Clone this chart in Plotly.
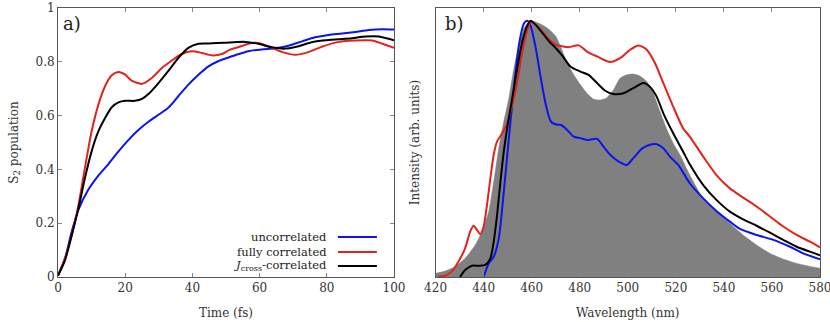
import plotly.graph_objects as go

# ---------------- Panel a: S2 population vs time ----------------
t_unc = [0, 2.1, 4.1, 6.1, 9, 12, 15, 18, 21, 24, 27, 29.9, 32.9, 35.8, 38.8, 41.8, 44.8, 47.8,
         50.5, 53.6, 56.6, 60.6, 64.6, 68.6, 72.6, 76.5, 80.5, 84.5, 88.5, 92.5, 96.5, 100]
p_unc = [0.005, 0.07, 0.17, 0.25, 0.324, 0.377, 0.42, 0.467, 0.51, 0.547, 0.578, 0.603, 0.63, 0.672,
         0.715, 0.752, 0.783, 0.803, 0.815, 0.828, 0.839, 0.846, 0.85, 0.86, 0.876, 0.891, 0.9,
         0.905, 0.911, 0.918, 0.921, 0.92]

t_full = [0, 2.1, 4.1, 6.1, 8, 10, 12, 14, 16, 18, 20, 21.9, 25, 27.9, 30.9, 33.9, 36.8, 39.8, 42.8,
          45.8, 48.8, 51.2, 53.6, 57.6, 59.6, 62.6, 66.6, 70.6, 74.5, 78.5, 83.5, 88.5, 93.5, 96.5, 100]
p_full = [0.005, 0.07, 0.156, 0.268, 0.405, 0.541, 0.64, 0.709, 0.75, 0.762, 0.752, 0.73, 0.718, 0.74,
          0.777, 0.805, 0.829, 0.839, 0.833, 0.824, 0.829, 0.845, 0.854, 0.87, 0.87, 0.858, 0.837,
          0.826, 0.836, 0.856, 0.874, 0.879, 0.879, 0.867, 0.852]

t_jc = [0, 2.1, 4.1, 6.1, 8, 10, 12, 14, 16, 18, 20, 22.9, 25, 26.9, 29.9, 32.9, 35.8, 38.8, 41.8,
        44.8, 49.6, 55.6, 59.6, 63.6, 67.6, 71.6, 75.5, 79.5, 83.5, 87.5, 91.5, 95.5, 100]
p_jc = [0.005, 0.063, 0.156, 0.256, 0.367, 0.467, 0.541, 0.591, 0.631, 0.649, 0.655, 0.655, 0.662,
        0.68, 0.721, 0.767, 0.814, 0.852, 0.867, 0.868, 0.871, 0.874, 0.867, 0.854, 0.849, 0.858,
        0.873, 0.88, 0.884, 0.888, 0.894, 0.894, 0.88]

# ---------------- Panel b: spectra ----------------
wl_exp = [419.7, 423.9, 428, 432.3, 436.5, 439.3, 442.1, 444.2, 446.3, 448.4, 450.5, 452.6, 454.7,
          456.8, 459.6, 463, 466.6, 470, 472, 474.8, 477.5, 480.3, 483, 485.8, 488.6, 491.3, 494,
          496.8, 499.6, 502.3, 505, 507.9, 510.6, 513.4, 516.1, 518.9, 521.7, 525.8, 531.4, 536.9,
          542.5, 548, 553.6, 559.2, 564.7, 570.3, 580]
i_exp = [0.014, 0.023, 0.04, 0.073, 0.125, 0.177, 0.255, 0.372, 0.503, 0.607, 0.698, 0.815, 0.906,
         0.971, 1.0, 0.99, 0.971, 0.94, 0.9, 0.835, 0.789, 0.75, 0.717, 0.694, 0.691, 0.7, 0.73,
         0.776, 0.789, 0.792, 0.785, 0.763, 0.717, 0.646, 0.58, 0.522, 0.477, 0.398, 0.307, 0.255,
         0.21, 0.164, 0.125, 0.092, 0.07, 0.053, 0.034]

wl_unc = [440, 442.1, 444.2, 446.3, 448.4, 450.5, 452.6, 454.7, 456.8, 458.2, 459.6, 461.7, 463.8,
          465.9, 468, 470.8, 472, 474.8, 477.5, 480.3, 483, 487.2, 489.9, 492.7, 496.1, 499.6,
          502.3, 505.8, 509.2, 512, 514.8, 517.5, 521, 525.8, 531.4, 536.9, 542.5, 546.7, 553.6,
          560.6, 567.5, 573, 580]
i_unc = [0.0, 0.053, 0.079, 0.151, 0.333, 0.542, 0.737, 0.906, 0.99, 1.0, 0.978, 0.893, 0.776,
         0.672, 0.607, 0.594, 0.594, 0.574, 0.548, 0.542, 0.535, 0.539, 0.509, 0.477, 0.451,
         0.4375, 0.464, 0.5, 0.516, 0.518, 0.503, 0.47, 0.4375, 0.366, 0.307, 0.258, 0.216,
         0.1875, 0.164, 0.145, 0.118, 0.092, 0.069]

wl_full = [421.1, 423.9, 426.7, 429.5, 432.3, 434.4, 435.8, 437.2, 438.6, 440, 441.4, 442.8, 444.2,
           445.6, 447.7, 449.8, 451.9, 454, 456.1, 458.2, 459.6, 461.7, 464.5, 467.3, 470.1, 472.9,
           475.4, 479.6, 483, 487.2, 492.7, 496.8, 501, 504.4, 507.9, 511.3, 514.8, 518.9, 523,
           525.8, 531.4, 536.9, 542.5, 548, 553.6, 559.2, 564.7, 570.3, 575.8, 580]
i_full = [0.001, 0.005, 0.021, 0.06, 0.112, 0.177, 0.2, 0.184, 0.167, 0.197, 0.281, 0.385, 0.477,
          0.529, 0.561, 0.6, 0.672, 0.763, 0.88, 0.965, 0.997, 0.984, 0.958, 0.926, 0.906, 0.9,
          0.897, 0.904, 0.88, 0.861, 0.839, 0.854, 0.887, 0.904, 0.887, 0.835, 0.757, 0.665, 0.581,
          0.548, 0.47, 0.398, 0.346, 0.31, 0.275, 0.236, 0.197, 0.164, 0.138, 0.116]

wl_jc = [430.2, 432.3, 435.1, 437.9, 440.7, 442.8, 444.2, 445.6, 447, 448.4, 449.8, 451.9, 454,
         456.1, 458.2, 459.6, 461.7, 464.5, 467.3, 470.1, 472.9, 476.1, 480.3, 483.7, 487.2, 490.6,
         494, 498.2, 502.3, 506.5, 509.2, 512, 514.8, 518.9, 523, 525.8, 531.4, 536.9, 542.5, 548,
         553.6, 559.2, 564.7, 570.3, 575.8, 580]
i_jc = [0.0, 0.027, 0.044, 0.044, 0.047, 0.073, 0.138, 0.242, 0.372, 0.49, 0.581, 0.698, 0.815,
        0.919, 0.982, 1.0, 0.984, 0.952, 0.919, 0.893, 0.862, 0.822, 0.802, 0.789, 0.757, 0.727,
        0.714, 0.717, 0.737, 0.757, 0.743, 0.704, 0.639, 0.561, 0.49, 0.44, 0.359, 0.301, 0.255,
        0.225, 0.2, 0.173, 0.145, 0.118, 0.099, 0.085]

series_names = ["uncorrelated", "fully correlated", "<i>J</i><sub>cross</sub>-correlated"]
BLUE, RED, BLACK, GRAY = "#0a14f0", "#e3221b", "#000000", "#808080"
series_colors = [BLUE, RED, BLACK]

FONT = "DejaVu Serif"
TXT = "#333333"
LW = 2

fig = go.Figure()

for xs, ys, c in [(t_unc, p_unc, BLUE), (t_full, p_full, RED), (t_jc, p_jc, BLACK)]:
    fig.add_trace(go.Scatter(x=xs, y=ys, mode="lines", line=dict(color=c, width=LW, shape="spline", smoothing=0.7),
                             xaxis="x", yaxis="y", showlegend=False, hoverinfo="skip"))

fig.add_trace(go.Scatter(x=wl_exp, y=i_exp, mode="lines", fill="tozeroy", fillcolor=GRAY,
                         line=dict(color=GRAY, width=0.5, shape="spline", smoothing=0.6),
                         xaxis="x2", yaxis="y2", showlegend=False, hoverinfo="skip"))
for xs, ys, c in [(wl_unc, i_unc, BLUE), (wl_full, i_full, RED), (wl_jc, i_jc, BLACK)]:
    fig.add_trace(go.Scatter(x=xs, y=ys, mode="lines", line=dict(color=c, width=LW, shape="spline", smoothing=0.7),
                             xaxis="x2", yaxis="y2", showlegend=False, hoverinfo="skip"))

axis_common = dict(showline=True, linecolor="#555555", linewidth=1, mirror="ticks", ticks="inside",
                   ticklen=4, tickcolor="#888888", showgrid=False, zeroline=False, automargin=False,
                   ticklabeloverflow="allow",
                   tickfont=dict(family=FONT, size=12, color=TXT))
title_font = dict(family=FONT, size=12, color=TXT)

fig.update_layout(
    width=830, height=322,
    margin=dict(l=58, r=10, t=8, b=45),
    paper_bgcolor="white", plot_bgcolor="white",
    font=dict(family=FONT, size=12, color=TXT),
    xaxis=dict(domain=[0, 0.441], range=[0, 100], tickvals=[0, 20, 40, 60, 80, 100],
               title=dict(text="Time (fs)", standoff=14, font=title_font),
               anchor="y", **axis_common),
    yaxis=dict(domain=[0, 1], range=[0, 1], tickvals=[0, 0.2, 0.4, 0.6, 0.8, 1],
               ticktext=["0", "0.2", "0.4", "0.6", "0.8", "1"],
               title=dict(text="S<sub>2</sub> population", standoff=14, font=title_font),
               anchor="x", **axis_common),
    xaxis2=dict(domain=[0.4955, 1], range=[420, 580], tickvals=list(range(420, 581, 20)),
                title=dict(text="Wavelength (nm)", standoff=14, font=title_font),
                anchor="y2", **axis_common),
    yaxis2=dict(domain=[0, 1], range=[0, 1.05], showticklabels=False, ticks="", showline=True,
                linecolor="#555555", linewidth=1, mirror=True, showgrid=False, zeroline=False,
                automargin=False,
                title=dict(text="Intensity (arb. units)", standoff=12, font=title_font),
                anchor="x2"),
)

# panel labels
fig.add_annotation(text="a)", xref="x domain", yref="y domain", x=0.01, y=0.99, xanchor="left", yanchor="top",
                   showarrow=False, font=dict(family=FONT, size=18, color="#222222"))
fig.add_annotation(text="b)", xref="x2 domain", yref="y2 domain", x=0.02, y=0.99, xanchor="left", yanchor="top",
                   showarrow=False, font=dict(family=FONT, size=18, color="#222222"))

# legend (text on left, sample line on right)
legend_rows = [0.149, 0.093, 0.041]
for name, c, yy in zip(series_names, series_colors, legend_rows):
    fig.add_annotation(text=name, xref="x domain", yref="y domain", x=0.807, y=yy, xanchor="right",
                       yanchor="middle", showarrow=False, font=dict(family=FONT, size=11.5, color="#222222"))
    fig.add_shape(type="line", xref="x domain", yref="y domain", x0=0.833, x1=0.949, y0=yy, y1=yy,
                  line=dict(color=c, width=LW))

fig.write_html("out.html", config={"displayModeBar": False},
               post_script="document.body.style.margin='0';document.body.style.overflow='hidden';")
